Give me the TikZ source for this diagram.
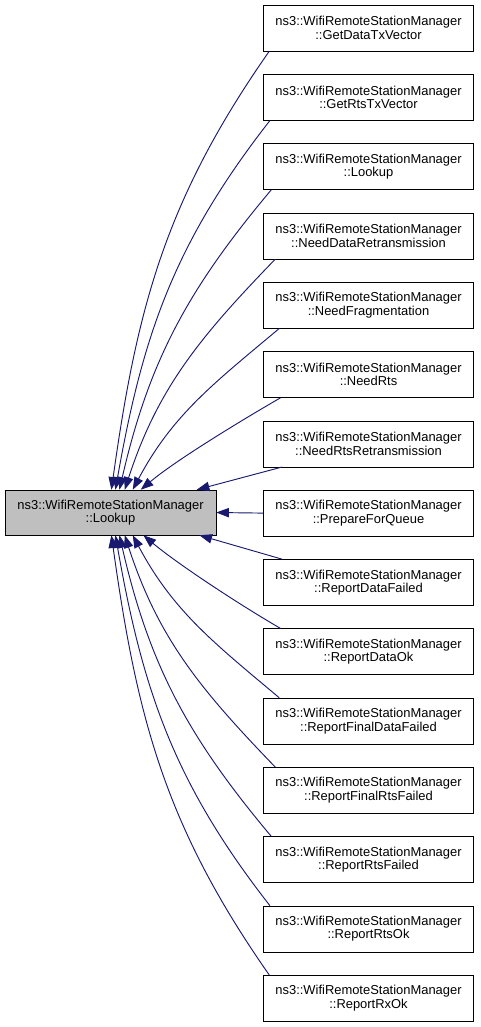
\documentclass[tikz,border=0pt]{standalone}
\usepackage{fontspec}
\setmainfont{Liberation Sans}
\usetikzlibrary{arrows.meta}
\definecolor{edgeblue}{HTML}{191970}
\definecolor{focusgray}{HTML}{BFBFBF}

\begin{document}
\begin{tikzpicture}[x=0.75pt,y=-0.75pt,
	caller/.style={draw=black, fill=white, inner sep=0pt,
		minimum width=157.5pt, minimum height=34.5pt, align=center,
		font=\fontsize{9.7}{10}\selectfont},
	focus/.style={caller, fill=focusgray, minimum width=158.25pt, minimum height=33.75pt},
	call/.style={draw=edgeblue, line width=0.7pt, -{Triangle[length=9.5pt,width=7pt,fill=edgeblue]}}]
	\useasboundingbox (0,0) rectangle (480,1027);

	%called function
	\node[focus] (Lookup) at (110.5,512.5) {ns3::WifiRemoteStationManager\\::Lookup};

	%callers
	\node[caller] (GetDataTxVector) at (368.5,28) {ns3::WifiRemoteStationManager\\::GetDataTxVector};
	\node[caller] (GetRtsTxVector) at (368.5,97.3) {ns3::WifiRemoteStationManager\\::GetRtsTxVector};
	\node[caller] (CallerLookup) at (368.5,166.6) {ns3::WifiRemoteStationManager\\::Lookup};
	\node[caller] (NeedDataRetransmission) at (368.5,235.9) {ns3::WifiRemoteStationManager\\::NeedDataRetransmission};
	\node[caller] (NeedFragmentation) at (368.5,305.2) {ns3::WifiRemoteStationManager\\::NeedFragmentation};
	\node[caller] (NeedRts) at (368.5,374.5) {ns3::WifiRemoteStationManager\\::NeedRts};
	\node[caller] (NeedRtsRetransmission) at (368.5,443.8) {ns3::WifiRemoteStationManager\\::NeedRtsRetransmission};
	\node[caller] (PrepareForQueue) at (368.5,513.1) {ns3::WifiRemoteStationManager\\::PrepareForQueue};
	\node[caller] (ReportDataFailed) at (368.5,582.4) {ns3::WifiRemoteStationManager\\::ReportDataFailed};
	\node[caller] (ReportDataOk) at (368.5,651.7) {ns3::WifiRemoteStationManager\\::ReportDataOk};
	\node[caller] (ReportFinalDataFailed) at (368.5,721) {ns3::WifiRemoteStationManager\\::ReportFinalDataFailed};
	\node[caller] (ReportFinalRtsFailed) at (368.5,790.3) {ns3::WifiRemoteStationManager\\::ReportFinalRtsFailed};
	\node[caller] (ReportRtsFailed) at (368.5,859.6) {ns3::WifiRemoteStationManager\\::ReportRtsFailed};
	\node[caller] (ReportRtsOk) at (368.5,928.9) {ns3::WifiRemoteStationManager\\::ReportRtsOk};
	\node[caller] (ReportRxOk) at (368.5,998.2) {ns3::WifiRemoteStationManager\\::ReportRxOk};

	%calls from above
	\draw[call] ([xshift=4.5pt]GetDataTxVector.south west) to[out=235,in=82] ([xshift=80pt]Lookup.north west);
	\draw[call] ([xshift=5pt]GetRtsTxVector.south west) to[out=232,in=80] ([xshift=83pt]Lookup.north west);
	\draw[call] ([xshift=6pt]CallerLookup.south west) to[out=230,in=77] ([xshift=86pt]Lookup.north west);
	\draw[call] ([xshift=9pt]NeedDataRetransmission.south west) to[out=226,in=72] ([xshift=90pt]Lookup.north west);
	\draw[call] ([xshift=12pt]NeedFragmentation.south west) to[out=220,in=62] ([xshift=96pt]Lookup.north west);
	\draw[call] ([xshift=13pt]NeedRts.south west) to[out=210,in=40,looseness=0.7] ([xshift=102pt]Lookup.north west);
	\draw[call] ([xshift=14pt]NeedRtsRetransmission.south west) -- ([xshift=144pt]Lookup.north west);

	%straight call
	\draw[call] (PrepareForQueue.west) -- (Lookup.east);

	%calls from below
	\draw[call] ([xshift=14pt]ReportDataFailed.north west) -- ([xshift=146pt]Lookup.south west);
	\draw[call] ([xshift=13pt]ReportDataOk.north west) to[out=150,in=-40,looseness=0.7] ([xshift=104pt]Lookup.south west);
	\draw[call] ([xshift=12pt]ReportFinalDataFailed.north west) to[out=140,in=-62] ([xshift=96pt]Lookup.south west);
	\draw[call] ([xshift=9pt]ReportFinalRtsFailed.north west) to[out=134,in=-72] ([xshift=90pt]Lookup.south west);
	\draw[call] ([xshift=6pt]ReportRtsFailed.north west) to[out=130,in=-77] ([xshift=86pt]Lookup.south west);
	\draw[call] ([xshift=5pt]ReportRtsOk.north west) to[out=128,in=-80] ([xshift=83pt]Lookup.south west);
	\draw[call] ([xshift=4.5pt]ReportRxOk.north west) to[out=125,in=-82] ([xshift=80pt]Lookup.south west);
\end{tikzpicture}
\end{document}
